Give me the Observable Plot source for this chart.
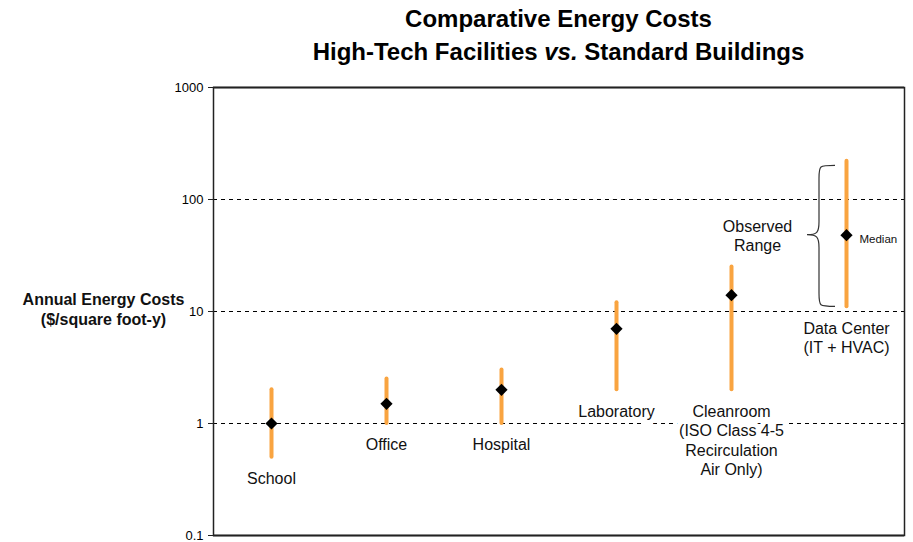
<!DOCTYPE html>
<html><head><meta charset="utf-8">
<script src="https://cdn.jsdelivr.net/npm/d3@7"></script>
<script src="https://cdn.jsdelivr.net/npm/@observablehq/plot@0.6"></script>
<style>
body{margin:0;background:#fff;font-family:"Liberation Sans",Arial,sans-serif;}
#title{margin-left:213px;width:691px;text-align:center;font-weight:bold;font-size:24px;line-height:33px;padding-top:2px;color:#000;}
</style></head><body>
<div id="title">Comparative Energy Costs<br>High-Tech Facilities <i>vs.</i> Standard Buildings</div>
<div id="chart"></div>
<script>
const categories = ["School","Office","Hospital","Laboratory","Cleanroom","Data Center"];
const labels = ["School","Office","Hospital","Laboratory","Cleanroom\n(ISO Class 4-5\nRecirculation\nAir Only)","Data Center\n(IT + HVAC)"];
const lows = [0.5, 1, 1, 2, 2, 11];
const highs = [2, 2.5, 3, 12, 25, 220];
const medians = [1, 1.5, 2, 7, 14, 48];
const yTicks = [0.1, 1, 10, 100, 1000];
const gridValues = [1, 10, 100];
const braceRange = [11, 200];
const braceCategory = "Data Center";

const data = categories.map((c, i) => ({cat: c, label: labels[i], low: lows[i], high: highs[i], median: medians[i]}));
const dc = data.find(d => d.cat === braceCategory);

function brace(index, scales) {
  const cx = scales.x(braceCategory);
  const yt = scales.y(braceRange[1]), yb = scales.y(braceRange[0]), ym = scales.y(dc.median);
  const tip = cx - 11, sp = cx - 27, pt = cx - 39, r = 13;
  const d = `M${tip},${yt} C${sp},${yt} ${sp},${yt} ${sp},${yt + r} L${sp},${ym - r} C${sp},${ym - 2} ${sp - 2},${ym} ${pt},${ym} C${sp - 2},${ym} ${sp},${ym + 2} ${sp},${ym + r} L${sp},${yb - r} C${sp},${yb} ${sp},${yb} ${tip},${yb}`;
  const path = document.createElementNS("http://www.w3.org/2000/svg", "path");
  path.setAttribute("d", d);
  path.setAttribute("fill", "none");
  path.setAttribute("stroke", "#333");
  path.setAttribute("stroke-width", "1.2");
  return path;
}

const chart = Plot.plot({
  width: 913,
  height: 474,
  marginTop: 19,
  marginBottom: 7,
  marginLeft: 213,
  marginRight: 9,
  style: {fontFamily: "'Liberation Sans', Arial, sans-serif", color: "#000", background: "#fff"},
  x: {type: "point", domain: categories, padding: 0.5, axis: null},
  y: {type: "log", domain: [0.1, 1000], axis: null},
  marks: [
    Plot.ruleY(gridValues, {stroke: "#000", strokeWidth: 1, strokeDasharray: "4,4"}),
    Plot.ruleY([1000, 0.1], {stroke: "#555", strokeWidth: 2}),
    Plot.frame({stroke: "#222", strokeWidth: 1.5, fill: "none"}),
    Plot.axisY({ticks: yTicks, tickFormat: d => String(d), tickSize: 5, tickPadding: 5, fontSize: 13, stroke: "#222"}),
    Plot.ruleX([0], {x: () => null, frameAnchor: "left", stroke: "#222", strokeWidth: 2}),
    Plot.ruleX(data, {x: "cat", y1: "low", y2: "high", stroke: "#f9a440", strokeWidth: 4, strokeLinecap: "round"}),
    Plot.dot(data, {x: "cat", y: "median", symbol: "diamond2", r: 5.5, fill: "#000", stroke: "none"}),
    Plot.text(data, {x: "cat", y: "low", text: "label", dy: 13, lineAnchor: "top", fontSize: 16, lineHeight: 1.22, fill: "#111", stroke: "white", strokeWidth: 10, strokeLinejoin: "round", paintOrder: "stroke"}),
    Plot.text(["Annual Energy Costs\n($/square foot-y)"], {y: [10], frameAnchor: "left", dx: -110, dy: -3, fontSize: 16, fontWeight: "bold", lineHeight: 1.28, textAnchor: "middle", fill: "#111"}),
    Plot.text(["Observed\nRange"], {x: [braceCategory], y: [dc.median], dx: -89, dy: 0, fontSize: 16, lineHeight: 1.22, textAnchor: "middle", fill: "#111"}),
    brace,
    Plot.text(["Median"], {x: [braceCategory], y: [dc.median], dx: 13, dy: 4, fontSize: 11.5, textAnchor: "start", fill: "#111", stroke: "white", strokeWidth: 8, paintOrder: "stroke"})
  ]
});
document.getElementById("chart").appendChild(chart);
</script>
</body></html>
